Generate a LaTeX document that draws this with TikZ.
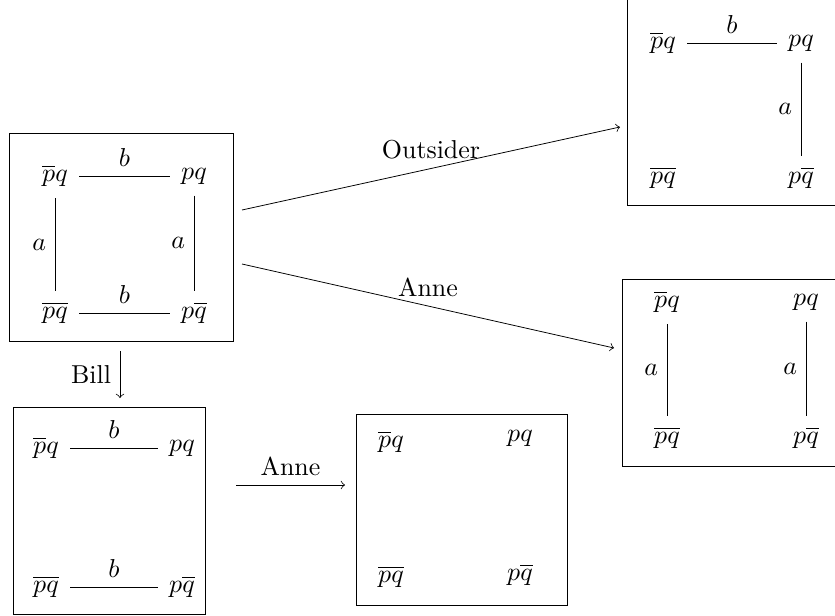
\documentclass[tikz,border=0pt]{standalone}
\usepackage{amsmath}
\tikzset{
  world/.style={inner sep=0.333em},
  rel/.style={shorten <=1pt,shorten >=1pt}
}
\begin{document}
\begin{tikzpicture}[x=0.386pt,y=-0.386pt,line width=0.3pt]
\useasboundingbox (0,0) rectangle (835,616);
% initial model
\draw (9,133) rectangle (233,341);
\node[world] (npq1) at (55,176) {$\overline{p}q$};
\node[world] (pq1) at (194,176) {$pq$};
\node[world] (npnq1) at (55,313) {$\overline{pq}$};
\node[world] (pnq1) at (194,313) {$p\overline{q}$};
\draw[rel] (npq1) -- (pq1) node[midway,above] {$b$};
\draw[rel] (npnq1) -- (pnq1) node[midway,above] {$b$};
\draw[rel] (npq1) -- (npnq1) node[midway,left] {$a$};
\draw[rel] (pq1) -- (pnq1) node[midway,left] {$a$};
% after the outsider
\draw (627,-10) rectangle (845,205);
\node[world] (npq2) at (663,43) {$\overline{p}q$};
\node[world] (pq2) at (801,43) {$pq$};
\node[world] (npnq2) at (663,178) {$\overline{pq}$};
\node[world] (pnq2) at (801,178) {$p\overline{q}$};
\draw[rel] (npq2) -- (pq2) node[midway,above] {$b$};
\draw[rel] (pq2) -- (pnq2) node[midway,left] {$a$};
% after Anne
\draw (622,279) rectangle (845,466);
\node[world] (npq3) at (667,302) {$\overline{p}q$};
\node[world] (pq3) at (806,302) {$pq$};
\node[world] (npnq3) at (667,438) {$\overline{pq}$};
\node[world] (pnq3) at (806,438) {$p\overline{q}$};
\draw[rel] (npq3) -- (npnq3) node[midway,left] {$a$};
\draw[rel] (pq3) -- (pnq3) node[midway,left] {$a$};
% after Bill
\draw (13,407) rectangle (205,614);
\node[world] (npq4) at (46,448) {$\overline{p}q$};
\node[world] (pq4) at (182,448) {$pq$};
\node[world] (npnq4) at (46,587) {$\overline{pq}$};
\node[world] (pnq4) at (182,587) {$p\overline{q}$};
\draw[rel] (npq4) -- (pq4) node[midway,above] {$b$};
\draw[rel] (npnq4) -- (pnq4) node[midway,above] {$b$};
% after Bill, then Anne
\draw (356,414) rectangle (567,605);
\node[world] (npq5) at (391,442) {$\overline{p}q$};
\node[world] (pq5) at (520,438) {$pq$};
\node[world] (npnq5) at (391,577) {$\overline{pq}$};
\node[world] (pnq5) at (520,575) {$p\overline{q}$};
% updates
\coordinate (O1) at (242,210);
\coordinate (O2) at (620,127);
\coordinate (A1) at (242,264);
\coordinate (A2) at (614,348);
\coordinate (B1) at (120,351);
\coordinate (B2) at (120,398);
\coordinate (C1) at (236,485);
\coordinate (C2) at (345,485);
\draw[->] (O1) -- (O2) node[midway,above] {Outsider};
\draw[->] (A1) -- (A2) node[midway,above] {Anne};
\draw[->] (B1) -- (B2) node[midway,left] {Bill};
\draw[->] (C1) -- (C2) node[midway,above] {Anne};
\end{tikzpicture}
\end{document}
